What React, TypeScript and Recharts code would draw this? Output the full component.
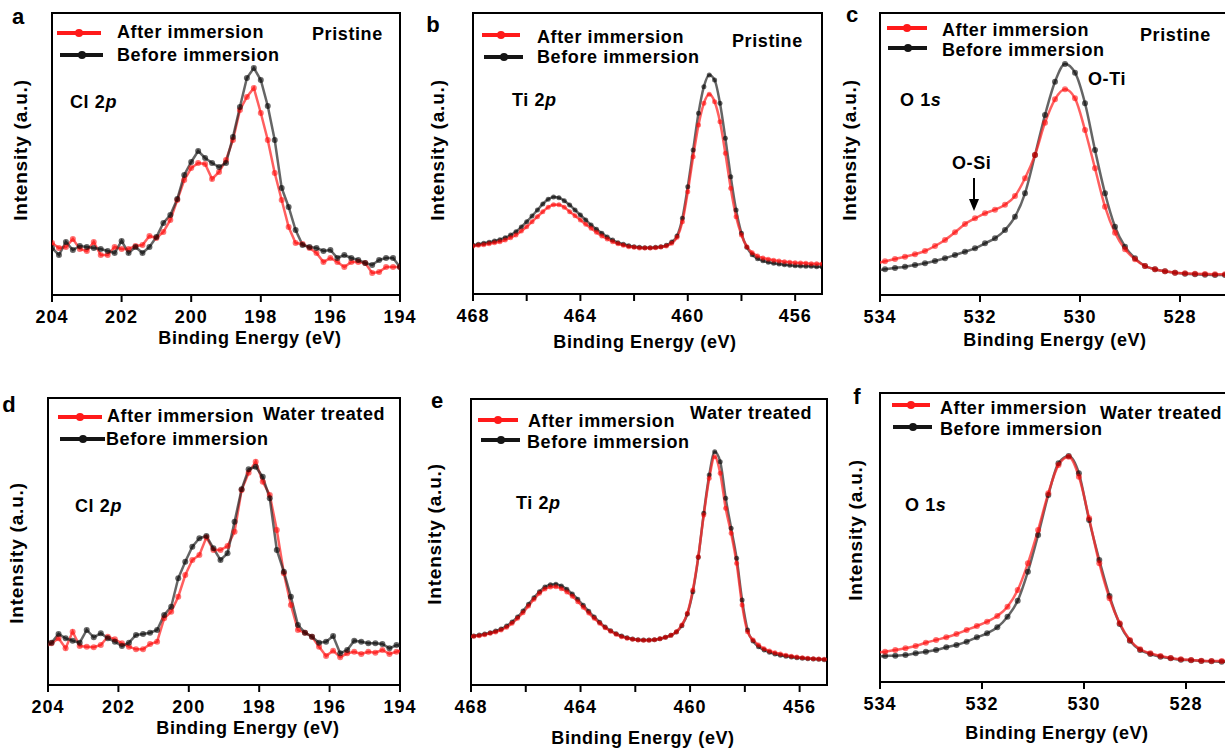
import React from "react"
import { LineChart, Line, XAxis, YAxis, ReferenceArea } from "recharts"

const FONT = '"Liberation Sans", Arial, Helvetica, sans-serif'

// Cl 2p, pristine (a)
const energyA = [204, 203.8, 203.6, 203.4, 203.2, 203, 202.8, 202.6, 202.4, 202.2, 202, 201.8, 201.6, 201.4, 201.2, 201, 200.8, 200.6, 200.4, 200.2, 200, 199.8, 199.6, 199.4, 199.2, 199, 198.8, 198.6, 198.4, 198.2, 198, 197.8, 197.6, 197.4, 197.2, 197, 196.8, 196.6, 196.4, 196.2, 196, 195.8, 195.6, 195.4, 195.2, 195, 194.8, 194.6, 194.4, 194.2, 194]
const afterA = [52, 47, 48, 56, 46, 44, 53, 40, 40, 48, 46, 46, 49, 50, 59, 57, 63, 75, 95, 115, 127, 132, 131, 116, 123, 135, 155, 185, 198, 207, 182, 155, 122, 95, 68, 52, 51, 47, 42, 33, 37, 33, 28, 33, 33, 32, 22, 23, 28, 28, 28]
const beforeA = [47, 40, 53, 45, 49, 48, 47, 46, 44, 42, 54, 42, 48, 42, 48, 58, 72, 80, 96, 120, 133, 144, 137, 132, 128, 132, 158, 188, 217, 227, 215, 189, 155, 107, 88, 65, 50, 48, 47, 44, 45, 37, 40, 37, 35, 32, 30, 35, 37, 37, 28]

// Ti 2p, pristine (b)
const energyB = [468, 467.8, 467.6, 467.4, 467.2, 467, 466.8, 466.6, 466.4, 466.2, 466, 465.8, 465.6, 465.4, 465.2, 465, 464.8, 464.6, 464.4, 464.2, 464, 463.8, 463.6, 463.4, 463.2, 463, 462.8, 462.6, 462.4, 462.2, 462, 461.8, 461.6, 461.4, 461.2, 461, 460.8, 460.6, 460.4, 460.2, 460, 459.8, 459.6, 459.4, 459.2, 459, 458.8, 458.6, 458.4, 458.2, 458, 457.8, 457.6, 457.4, 457.2, 457, 456.8, 456.6, 456.4, 456.2, 456, 455.8, 455.6, 455.4, 455.2, 455]
const afterB = [48, 48.7, 49.3, 50.3, 51.3, 52.3, 54, 56.3, 59, 63, 67.3, 72.3, 77.3, 82.3, 86.7, 89.3, 89.3, 86.7, 82.3, 78.3, 74, 69.7, 65.7, 61.7, 58, 55, 52.3, 50.3, 48.7, 47.3, 46.7, 46, 46, 46, 46.3, 47, 48, 50.7, 56.7, 72.3, 102.3, 137.3, 169, 190.7, 199.7, 192.3, 172.3, 140.7, 105.7, 77.3, 59, 47.3, 41.3, 38, 36, 34.7, 33.7, 33, 32.3, 31.7, 31.3, 31, 30.7, 30.3, 30.3, 30]
const beforeB = [48.7, 49.7, 50.7, 51.7, 53, 54.3, 56.3, 59, 62.3, 67, 72.3, 78, 84, 90, 94.7, 97, 96.3, 93.3, 89, 84, 79, 74, 69, 64.7, 60.7, 57, 54, 51.3, 49.7, 48.3, 47.3, 46.7, 46.3, 46.3, 46.7, 47.3, 48.7, 52, 58, 75.7, 107.3, 144, 180.7, 207.3, 219, 214, 190.7, 155.7, 117.3, 84, 60.7, 46.7, 39.3, 35.3, 33.3, 31.7, 30.7, 30, 29.3, 28.7, 28.3, 28, 27.7, 27.7, 27.3, 27.3]

// O 1s, pristine (c)
const energyC = [534.1, 533.9, 533.7, 533.5, 533.3, 533.1, 532.9, 532.7, 532.5, 532.3, 532.1, 531.9, 531.7, 531.5, 531.3, 531.1, 530.9, 530.7, 530.5, 530.3, 530.1, 529.9, 529.7, 529.5, 529.3, 529.1, 528.9, 528.7, 528.5, 528.3, 528.1, 527.9, 527.7, 527.5, 527.3, 527.1]
const afterC = [31, 33.7, 36, 38.3, 40.7, 44, 49, 55, 62.7, 71, 76.7, 81.7, 85.3, 90.3, 99, 116.7, 140, 172.3, 195.7, 205.7, 196.7, 165, 126.7, 88.3, 62.3, 45.7, 35.7, 29, 25.7, 23.7, 22.3, 21.7, 21.3, 21, 20.7, 20.7]
const beforeC = [24.3, 25.7, 27, 28.3, 30, 31.7, 34, 36.7, 40, 43.3, 46.7, 51.7, 56.7, 65, 78.3, 101.7, 140, 180, 213.3, 231, 222.3, 191.7, 145, 101.7, 68.3, 48.3, 36.7, 29, 25.7, 23.7, 22.3, 21.3, 20.7, 20.3, 20, 20]

// Cl 2p, water treated (d)
const energyD = [204.1, 203.9, 203.7, 203.5, 203.3, 203.1, 202.9, 202.7, 202.5, 202.3, 202.1, 201.9, 201.7, 201.5, 201.3, 201.1, 200.9, 200.7, 200.5, 200.3, 200.1, 199.9, 199.7, 199.5, 199.3, 199.1, 198.9, 198.7, 198.5, 198.3, 198.1, 197.9, 197.7, 197.5, 197.3, 197.1, 196.9, 196.7, 196.5, 196.3, 196.1, 195.9, 195.7, 195.5, 195.3, 195.1, 194.9, 194.7, 194.5, 194.3, 194.1, 193.9]
const afterD = [38.3, 41.7, 46.7, 36.7, 53.3, 39, 38.3, 37.7, 40, 48.3, 45.7, 41.7, 38.3, 35.7, 35.7, 41, 43.3, 66.7, 73.3, 88.3, 110, 125, 130, 147.7, 135, 135, 139, 153.3, 195, 212.3, 223.3, 203.3, 190, 155, 111.7, 80, 55, 52.3, 48.3, 38.3, 29, 34.3, 27.7, 31.7, 33.3, 31, 33.3, 32.3, 35, 31, 33.3, 35]
const beforeD = [38.3, 42.3, 51, 46.7, 44.3, 42.3, 55, 47.7, 51.7, 46.7, 43.3, 39, 42.3, 50, 51, 52.3, 55, 70, 78.3, 106.7, 123.3, 138.3, 146.7, 149, 136.7, 125, 131.7, 163.3, 195.7, 215.7, 218.3, 208.3, 186.7, 135, 113.3, 88.3, 60, 52.3, 48.3, 42.3, 43.3, 49, 31.7, 35, 44.3, 43.3, 41.7, 41.7, 41, 36.7, 40, 38.3]

// Ti 2p, water treated (e)
const energyE = [468.1, 467.9, 467.7, 467.5, 467.3, 467.1, 466.9, 466.7, 466.5, 466.3, 466.1, 465.9, 465.7, 465.5, 465.3, 465.1, 464.9, 464.7, 464.5, 464.3, 464.1, 463.9, 463.7, 463.5, 463.3, 463.1, 462.9, 462.7, 462.5, 462.3, 462.1, 461.9, 461.7, 461.5, 461.3, 461.1, 460.9, 460.7, 460.5, 460.3, 460.1, 459.9, 459.7, 459.5, 459.3, 459.1, 458.9, 458.7, 458.5, 458.3, 458.1, 457.9, 457.7, 457.5, 457.3, 457.1, 456.9, 456.7, 456.5, 456.3, 456.1, 455.9, 455.7, 455.5, 455.3, 455.1, 454.9]
const afterE = [48, 48.7, 49.3, 50.3, 51.7, 53, 55, 57.7, 61.7, 66.7, 72.3, 79, 85.7, 91.7, 96, 98, 98.3, 96.3, 93, 88.7, 83.3, 77.7, 72, 66.7, 61.7, 57.3, 53.7, 50.7, 48.3, 46.7, 45.7, 45, 44.7, 44.7, 45.3, 46.3, 47.7, 49.7, 53.3, 60, 71.7, 95, 128.3, 170, 206.7, 228.3, 211.7, 176.7, 151.7, 121.7, 80, 53.3, 45, 40, 36.3, 34, 32.3, 31, 29.7, 28.7, 28, 27.3, 26.7, 26.3, 26, 25.7, 25.3]
const beforeE = [48.3, 49, 50, 51, 52.3, 54, 56, 59, 63, 68, 74, 80.7, 87.3, 93.3, 98, 100.3, 100.7, 99, 95.7, 91, 85.7, 79.7, 73.7, 68, 62.7, 58, 54.3, 51.3, 49, 47.3, 46, 45.3, 45, 45, 45.3, 46.3, 47.7, 49.7, 53, 59.3, 71, 93.3, 127.7, 171.7, 210, 233.3, 223.3, 186.7, 156.7, 126.7, 85, 55, 44, 38.3, 35, 32.7, 31, 29.7, 28.7, 28, 27.3, 26.7, 26.3, 26, 25.7, 25.3, 25]

// O 1s, water treated (f)
const energyF = [534.1, 533.9, 533.7, 533.5, 533.3, 533.1, 532.9, 532.7, 532.5, 532.3, 532.1, 531.9, 531.7, 531.5, 531.3, 531.1, 530.9, 530.7, 530.5, 530.3, 530.1, 529.9, 529.7, 529.5, 529.3, 529.1, 528.9, 528.7, 528.5, 528.3, 528.1, 527.9, 527.7, 527.5, 527.3, 527.1]
const afterF = [29.3, 30.3, 32, 33.7, 36, 39.3, 42, 44.7, 48, 52, 56, 60.3, 66, 75.3, 92, 118.7, 152, 188.7, 217, 225.3, 205.3, 163.7, 118.7, 83.7, 58.7, 42, 32.7, 28.7, 26, 24, 22.7, 22, 21.3, 21, 21, 20.7]
const beforeF = [25.3, 26, 26.3, 27, 28.7, 30.3, 32, 34.7, 37, 40.3, 44.7, 48.7, 54.7, 65.3, 81.3, 110.3, 147, 187, 218.7, 226, 208.7, 162, 122, 86, 58, 41.3, 32, 28, 25.3, 23.7, 22.3, 21.7, 21, 20.7, 20.3, 20.3]

const ticksCl = [204, 202, 200, 198, 196, 194]
const ticksTi = [468, 466, 464, 462, 460, 458, 456]
const labelsTi = [468, 464, 460, 456]
const ticksO = [534, 532, 530, 528]

type Box = { l: number; t: number; r: number; b: number }

type PanelProps = {
    energies: number[]
    after: number[]
    before: number[]
    xDomain: [number, number]
    yMax: number
    ticks: number[]
    labels: number[]
    plot: Box
    curve: "linear" | "monotone"
    blackOnTop: boolean
    r: number
}

const Panel = ({ energies, after, before, xDomain, yMax, ticks, labels, plot, curve, blackOnTop, r }: PanelProps) => {
    const data = energies.map((e, i) => ({ e, after: after[i], before: before[i] }))
    // room on the sides so the edge tick labels are not cut off
    const padL = 30
    const padT = 6
    const axisH = 44
    const width = plot.r - plot.l + padL * 2
    const height = plot.b - plot.t + padT + axisH

    const tick = (p: any) => {
        const v = p.payload.value
        if (!labels.includes(v)) return <g />
        return (
            <text x={p.x} y={p.y} dy={19} textAnchor="middle" fill="#000"
                style={{ fontFamily: FONT, fontWeight: 700, fontSize: 18, letterSpacing: 1 }}>
                {v}
            </text>
        )
    }

    const redLine = (
        <Line key="after" type={curve} dataKey="after" stroke="#ff2a2a" strokeOpacity={0.75} strokeWidth={2.5}
            dot={{ r, fill: "#ff0000", fillOpacity: 0.55, stroke: "none" }} activeDot={false} isAnimationActive={false} />
    )
    const blackLine = (
        <Line key="before" type={curve} dataKey="before" stroke="#2a2a2a" strokeOpacity={0.72} strokeWidth={2.5}
            dot={{ r, fill: "#000", fillOpacity: 0.6, stroke: "none" }} activeDot={false} isAnimationActive={false} />
    )

    return (
        <div style={{ position: "absolute", left: plot.l - padL, top: plot.t - padT }}>
            <LineChart width={width} height={height} data={data} margin={{ top: padT, left: padL, right: padL, bottom: 0 }}>
                <XAxis dataKey="e" type="number" domain={xDomain} reversed allowDataOverflow ticks={ticks} interval={0}
                    height={axisH} tickSize={7} tick={tick}
                    tickLine={{ stroke: "#000", strokeWidth: 2 }} axisLine={{ stroke: "#000", strokeWidth: 2 }} />
                <YAxis hide type="number" domain={[0, yMax]} allowDataOverflow />
                <ReferenceArea x1={xDomain[0]} x2={xDomain[1]} y1={0} y2={yMax} fill="none" stroke="#000" strokeWidth={2} />
                {blackOnTop ? [redLine, blackLine] : [blackLine, redLine]}
            </LineChart>
        </div>
    )
}

const Txt = ({ x, y, children, size = 18, center = false, rotate = false, spacing = 0.6 }: any) => (
    <div style={{
        position: "absolute", left: x, top: y, whiteSpace: "nowrap", lineHeight: 1,
        transform: `translate(${center ? "-50%" : "0"}, -50%)${rotate ? " rotate(-90deg)" : ""}`,
        fontFamily: FONT, fontWeight: 700, fontSize: size, letterSpacing: spacing, color: "#000",
    }}>
        {children}
    </div>
)

const Swatch = ({ x1, x2, y, color }: { x1: number; x2: number; y: number; color: string }) => (
    <div style={{ position: "absolute", left: x1, top: y - 2, width: x2 - x1, height: 4, background: color }}>
        <div style={{ position: "absolute", left: "50%", top: "50%", width: 8, height: 8, marginLeft: -4, marginTop: -4, borderRadius: "50%", background: color }} />
    </div>
)

const Legend = ({ red, black }: { red: number[]; black: number[] }) => (
    <>
        <Swatch x1={red[0]} x2={red[1]} y={red[2]} color="#ff1a1a" />
        <Txt x={red[3]} y={red[4]}>After immersion</Txt>
        <Swatch x1={black[0]} x2={black[1]} y={black[2]} color="#151515" />
        <Txt x={black[3]} y={black[4]}>Before immersion</Txt>
    </>
)

export default function App() {
    return (
        <div style={{ position: "absolute", left: 0, top: 0, width: 1225, height: 748, overflow: "hidden", background: "#fff" }}>
            <Panel energies={energyA} after={afterA} before={beforeA} xDomain={[194, 204]} yMax={282} ticks={ticksCl} labels={ticksCl}
                plot={{ l: 52, t: 13, r: 400, b: 295 }} curve="linear" blackOnTop r={3} />
            <Panel energies={energyB} after={afterB} before={beforeB} xDomain={[455, 468]} yMax={281} ticks={ticksTi} labels={labelsTi}
                plot={{ l: 473, t: 13, r: 822, b: 294 }} curve="monotone" blackOnTop={false} r={2.5} />
            <Panel energies={energyC} after={afterC} before={beforeC} xDomain={[527, 534]} yMax={282} ticks={ticksO} labels={ticksO}
                plot={{ l: 880, t: 13, r: 1230, b: 295 }} curve="monotone" blackOnTop={false} r={3} />
            <Panel energies={energyD} after={afterD} before={beforeD} xDomain={[194, 204]} yMax={287} ticks={ticksCl} labels={ticksCl}
                plot={{ l: 48, t: 398, r: 400, b: 685 }} curve="linear" blackOnTop r={3} />
            <Panel energies={energyE} after={afterE} before={beforeE} xDomain={[455, 468]} yMax={286} ticks={ticksTi} labels={labelsTi}
                plot={{ l: 471, t: 399, r: 827, b: 685 }} curve="monotone" blackOnTop={false} r={2.5} />
            <Panel energies={energyF} after={afterF} before={beforeF} xDomain={[527, 534]} yMax={289} ticks={ticksO} labels={ticksO}
                plot={{ l: 880, t: 393, r: 1237, b: 682 }} curve="monotone" blackOnTop={false} r={3} />

            {/* panel a */}
            <Txt x={18} y={17} size={22} center spacing={0}>a</Txt>
            <Legend red={[57, 101, 33, 117, 32]} black={[60, 103, 55, 117, 55]} />
            <Txt x={312} y={34}>Pristine</Txt>
            <Txt x={70} y={102}>Cl 2<i>p</i></Txt>
            <Txt x={20} y={150} size={19} center rotate spacing={0.8}>Intensity (a.u.)</Txt>
            <Txt x={250} y={338} center>Binding Energy (eV)</Txt>

            {/* panel b */}
            <Txt x={433} y={25} size={22} center spacing={0}>b</Txt>
            <Legend red={[482, 520, 35, 537, 37]} black={[484, 523, 57, 537, 57]} />
            <Txt x={732} y={41}>Pristine</Txt>
            <Txt x={512} y={100}>Ti 2<i>p</i></Txt>
            <Txt x={437} y={150} size={19} center rotate spacing={0.8}>Intensity (a.u.)</Txt>
            <Txt x={645} y={342} center>Binding Energy (eV)</Txt>

            {/* panel c */}
            <Txt x={852} y={15} size={22} center spacing={0}>c</Txt>
            <Legend red={[887, 927, 28, 942, 30]} black={[888, 927, 48, 942, 50]} />
            <Txt x={1140} y={35}>Pristine</Txt>
            <Txt x={900} y={100}>O 1<i>s</i></Txt>
            <Txt x={1088} y={79}>O-Ti</Txt>
            <Txt x={952} y={163}>O-Si</Txt>
            <svg style={{ position: "absolute", left: 964, top: 176 }} width={20} height={40}>
                <line x1={10} y1={2} x2={10} y2={26} stroke="#000" strokeWidth={2} />
                <polygon points="5,23 15,23 10,35" fill="#000" />
            </svg>
            <Txt x={849} y={150} size={19} center rotate spacing={0.8}>Intensity (a.u.)</Txt>
            <Txt x={1055} y={340} center>Binding Energy (eV)</Txt>

            {/* panel d */}
            <Txt x={9} y={405} size={22} center spacing={0}>d</Txt>
            <Legend red={[58, 102, 417, 107, 416]} black={[60, 105, 439, 106, 439]} />
            <Txt x={263} y={414}>Water treated</Txt>
            <Txt x={75} y={506}>Cl 2<i>p</i></Txt>
            <Txt x={16} y={553} size={19} center rotate spacing={0.8}>Intensity (a.u.)</Txt>
            <Txt x={248} y={728} center>Binding Energy (eV)</Txt>

            {/* panel e */}
            <Txt x={437} y={401} size={22} center spacing={0}>e</Txt>
            <Legend red={[478, 518, 420, 528, 421]} black={[481, 520, 440, 527, 442]} />
            <Txt x={690} y={413}>Water treated</Txt>
            <Txt x={516} y={503}>Ti 2<i>p</i></Txt>
            <Txt x={434} y={534} size={19} center rotate spacing={0.8}>Intensity (a.u.)</Txt>
            <Txt x={643} y={738} center>Binding Energy (eV)</Txt>

            {/* panel f */}
            <Txt x={857} y={397} size={22} center spacing={0}>f</Txt>
            <Legend red={[892, 930, 405, 940, 408]} black={[893, 932, 427, 940, 429]} />
            <Txt x={1100} y={413}>Water treated</Txt>
            <Txt x={905} y={505}>O 1<i>s</i></Txt>
            <Txt x={855} y={530} size={19} center rotate spacing={0.8}>Intensity (a.u.)</Txt>
            <Txt x={1057} y={733} center>Binding Energy (eV)</Txt>
        </div>
    )
}
